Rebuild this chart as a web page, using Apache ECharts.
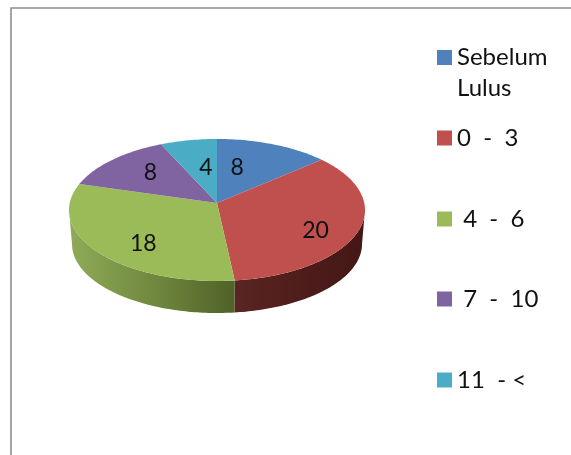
<!DOCTYPE html>
<html>
<head>
<meta charset="utf-8">
<style>
html, body { margin: 0; padding: 0; background: #fff; }
#main { width: 571px; height: 455px; }
</style>
<script src="https://cdn.jsdelivr.net/npm/echarts@6/dist/echarts.min.js"></script>
</head>
<body>
<div id="main"></div>
<script>
var categories = ['Sebelum Lulus', '0  -  3', ' 4  -  6', ' 7  -  10', '11  - <'];
var values = [8, 20, 18, 8, 4];

var colors = ['#4f81bd', '#c0504d', '#9bbb59', '#8064a2', '#4bacc6'];
var wallColors = {1: ['#5a2522', '#4f1d1b', '#431715'], 2: ['#8fab58', '#71893f', '#4f6228']};
var labelNudge = [[-17, -4], [16, 5], [-6, 6], [1, -10], [8, -1]];
var legendTops = [11, 126, 207, 287, 368];

var top3d = {cx: 217, cy: 210, rx: 148, ry: 71, apexY: 203};
var bottom3d = {cx: 217, cy: 244, rx: 145, ry: 69};
var total = values.reduce(function (a, b) { return a + b; }, 0);

function rim(e, t) {
	return [e.cx + e.rx * Math.sin(t), e.cy - e.ry * Math.cos(t)];
}

// the tilted view squeezes the far side of the pie a little
function tilt(t) {
	return t - 0.108 * Math.sin(t);
}

function arc(e, from, to) {
	var pts = [];
	var steps = Math.max(2, Math.ceil((to - from) / 0.02));
	for (var i = 0; i <= steps; i++) {
		pts.push(rim(e, from + (to - from) * i / steps));
	}
	return pts;
}

function sliceSeries(idx) {
	var before = values.slice(0, idx).reduce(function (a, b) { return a + b; }, 0);
	return {
		type: 'custom',
		name: categories[idx],
		coordinateSystem: 'none',
		silent: true,
		data: [[values[idx]]],
		renderItem: function (params, api) {
			var v = api.value(0);
			var rawFrom = before / total * Math.PI * 2;
			var rawTo = (before + v) / total * Math.PI * 2;
			var from = tilt(rawFrom);
			var to = tilt(rawTo);
			var children = [];

			// side wall, only the part facing the viewer
			var wFrom = Math.max(from, Math.PI / 2);
			var wTo = Math.min(to, Math.PI * 1.5);
			if (wTo > wFrom && wallColors[idx]) {
				var w = wallColors[idx];
				children.push({
					type: 'polygon',
					shape: {points: arc(top3d, wFrom, wTo).concat(arc(bottom3d, wFrom, wTo).reverse())},
					style: {
						fill: new echarts.graphic.LinearGradient(0, 0, 1, 0, [
							{offset: 0, color: w[0]},
							{offset: 0.5, color: w[1]},
							{offset: 1, color: w[2]}
						])
					}
				});
			}

			children.push({
				type: 'polygon',
				shape: {points: [[top3d.cx, top3d.apexY]].concat(arc(top3d, from, to))},
				style: {fill: colors[idx]}
			});

			var mid = rim(top3d, (rawFrom + rawTo) / 2);
			children.push({
				type: 'text',
				z2: 10,
				style: {
					text: String(v),
					x: top3d.cx + (mid[0] - top3d.cx) * 0.6 + labelNudge[idx][0],
					y: top3d.cy + (mid[1] - top3d.cy) * 0.6 + labelNudge[idx][1],
					align: 'center',
					verticalAlign: 'middle',
					fontFamily: 'Lato',
					fontSize: 23,
					fill: '#111'
				}
			});
			return {type: 'group', children: children};
		}
	};
}

var myChart = echarts.init(document.getElementById('main'));
var option = {
	animation: false,
	color: colors,
	legend: categories.map(function (name, i) {
		return {
			left: 437,
			top: legendTops[i],
			orient: 'vertical',
			data: [name],
			icon: 'rect',
			itemWidth: 15,
			itemHeight: 15,
			itemGap: 0,
			padding: 0,
			selectedMode: false,
			// blank first line keeps the swatch level with "Sebelum"
			formatter: i === 0 ? '\nSebelum\nLulus' : undefined,
			textStyle: i === 0
				? {fontFamily: 'Lato', fontSize: 24, color: '#111', lineHeight: 31}
				: {fontFamily: 'Lato', fontSize: 24, color: '#111'}
		};
	}),
	graphic: [{
		type: 'polyline',
		silent: true,
		shape: {points: [[11, 455], [11, 8], [571, 8]]},
		style: {stroke: '#8f8f8f', lineWidth: 1.6, fill: null}
	}],
	series: categories.map(function (name, i) { return sliceSeries(i); })
};

myChart.setOption(option);
</script>
</body>
</html>
